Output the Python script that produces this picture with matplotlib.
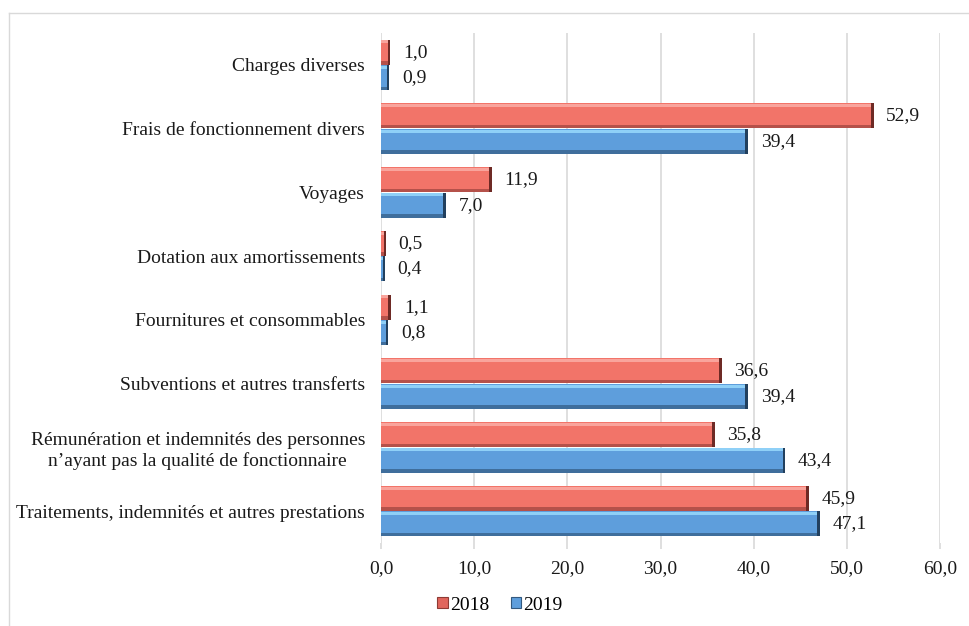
import numpy as np
import matplotlib
matplotlib.use("Agg")
import matplotlib.pyplot as plt
from matplotlib.ticker import FuncFormatter, MultipleLocator
from matplotlib.patches import Patch
from matplotlib.lines import Line2D

categories = [
    "Charges diverses",
    "Frais de fonctionnement divers",
    "Voyages",
    "Dotation aux amortissements",
    "Fournitures et consommables",
    "Subventions et autres transferts",
    "Rémunération et indemnités des personnes\nn’ayant pas la qualité de fonctionnaire",
    "Traitements, indemnités et autres prestations",
]
values_2018 = [1.0, 52.9, 11.9, 0.5, 1.1, 36.6, 35.8, 45.9]
values_2019 = [0.9, 39.4, 7.0, 0.4, 0.8, 39.4, 43.4, 47.1]
series_names = ["2018", "2019"]

plt.rcParams['font.family'] = ['Liberation Serif', 'DejaVu Serif']
FS = 14

fig = plt.figure(figsize=(9.69, 6.26), dpi=100)
ax = fig.add_axes([381/969, 1-543/626, (940-381)/969, (543-33)/626])

y = np.arange(len(categories))
h = 0.39

def bevel(ax, ypos, vals, main, light, dark, end):
    vals = np.asarray(vals)
    cont = ax.barh(ypos, vals, height=h, color=main, zorder=3, linewidth=0)
    # top highlight (axis inverted: smaller y is higher)
    ax.barh(ypos - h/2 + h*0.09, vals, height=h*0.12, color=light, zorder=4, linewidth=0)
    # bottom shadow
    ax.barh(ypos + h/2 - h*0.07, vals, height=h*0.14, color=dark, zorder=4, linewidth=0)
    # right end
    ew = np.minimum(vals*0.4, 0.3)
    ax.barh(ypos, ew, left=vals-ew, height=h, color=end, zorder=5, linewidth=0)
    return cont

c18 = bevel(ax, y - 0.2, values_2018, "#F27469", "#F9A49C", "#B5514A", "#6E2A25")
c19 = bevel(ax, y + 0.2, values_2019, "#5E9EDC", "#8FD0F7", "#3F6E9C", "#22405E")

fmt = lambda v: f"{v:.1f}".replace('.', ',')
for cont, vals in ((c18, values_2018), (c19, values_2019)):
    ax.bar_label(cont, labels=[fmt(v) for v in vals], padding=9, fontsize=FS, color="#1a1a1a")

ax.set_ylim(len(categories) - 0.5, -0.5)
ax.set_xlim(0, 60)
ax.xaxis.set_major_locator(MultipleLocator(10))
ax.xaxis.set_major_formatter(FuncFormatter(lambda v, p: fmt(v)))
ax.set_yticks(y)
ax.set_yticklabels(categories, multialignment='center')
ax.tick_params(axis='y', length=0, pad=11.5, labelsize=FS, labelcolor="#1a1a1a")
ax.tick_params(axis='x', length=4.5, width=1.2, color="#D9D9D9", pad=8, labelsize=FS, labelcolor="#1a1a1a")
for s in ax.spines.values():
    s.set_visible(False)
ax.grid(axis='x', color="#D9D9D9", linewidth=1.2, zorder=0)
ax.set_axisbelow(True)

handles = [Patch(facecolor="#E0655C", edgecolor="#8E3A34", linewidth=0.8),
           Patch(facecolor="#5E9EDC", edgecolor="#33597F", linewidth=0.8)]
fig.legend(handles, series_names, loc='center', bbox_to_anchor=(0.516, 1-605/626), ncol=2,
           frameon=False, fontsize=FS, handlelength=0.55, handleheight=0.55,
           handletextpad=0.1, columnspacing=1.1)

# outer border (top and left visible)
fig.add_artist(Line2D([9/969, 9/969], [0, 1-13/626], transform=fig.transFigure, color="#D9D9D9", linewidth=1))
fig.add_artist(Line2D([9/969, 1], [1-13/626, 1-13/626], transform=fig.transFigure, color="#D9D9D9", linewidth=1))

fig.savefig("out.png", dpi=100)
